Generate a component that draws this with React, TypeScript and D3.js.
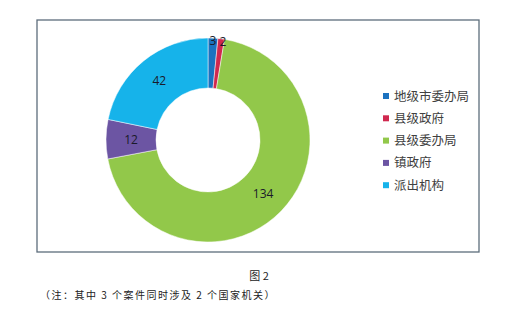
import { useEffect, useRef } from "react";
import * as d3 from "d3";

const W = 519;
const H = 317;

const categories = ["地级市委办局", "县级政府", "县级委办局", "镇政府", "派出机构"];
const counts = [3, 2, 134, 12, 42];
const colors = ["#1b72c0", "#d0284f", "#92c84a", "#6c55a3", "#16b3ea"];
const caption = "图 2";
const note = "（注：其中 3 个案件同时涉及 2 个国家机关）";

const CX = 208;
const CY = 140;
const R_OUT = 102;
const R_IN = 52;

export default function App() {
  const svgRef = useRef<SVGSVGElement>(null);

  useEffect(() => {
    if (!svgRef.current) return;
    const root = d3.select(svgRef.current);
    root.selectAll("*").remove();

    // chart frame
    root
      .append("rect")
      .attr("x", 37)
      .attr("y", 20)
      .attr("width", 442)
      .attr("height", 232)
      .attr("fill", "white")
      .attr("stroke", "#5d6d7c")
      .attr("stroke-width", 1.3);

    const pie = d3
      .pie<number>()
      .sort(null)
      .value((d) => d);
    const arcs = pie(counts);

    const arc = d3.arc<d3.PieArcDatum<number>>().innerRadius(R_IN).outerRadius(R_OUT);
    const labelArc = d3.arc<d3.PieArcDatum<number>>().innerRadius(77).outerRadius(77);
    const edgeArc = d3.arc<d3.PieArcDatum<number>>().innerRadius(99).outerRadius(99);

    const g = root.append("g").attr("transform", `translate(${CX},${CY})`);

    g.selectAll("path")
      .data(arcs)
      .join("path")
      .attr("d", arc)
      .attr("fill", (_, i) => colors[i])
      .attr("stroke", "white")
      .attr("stroke-width", 0.5);

    // small slices get their label pushed to the outer edge
    g.selectAll("text")
      .data(arcs)
      .join("text")
      .attr("transform", (d) => {
        const small = d.endAngle - d.startAngle < 0.2;
        const [x, y] = small ? edgeArc.centroid(d) : labelArc.centroid(d);
        return `translate(${x + (small && d.index === 1 ? 2 : 0)},${y})`;
      })
      .attr("text-anchor", "middle")
      .attr("dy", "0.35em")
      .attr("font-family", "'Open Sans', 'DejaVu Sans', sans-serif")
      .attr("font-size", 12)
      .attr("fill", "#1a1a2a")
      .text((d) => d.data);

    // legend
    const legend = root.append("g").attr("transform", "translate(383,96)");
    categories.forEach((c, i) => {
      const row = legend.append("g").attr("transform", `translate(0,${i * 22.3})`);
      row
        .append("rect")
        .attr("x", 0)
        .attr("y", -3)
        .attr("width", 6)
        .attr("height", 6)
        .attr("fill", colors[i]);
      row
        .append("text")
        .attr("x", 11)
        .attr("dy", "0.36em")
        .attr("font-family", "'Noto Sans CJK SC', sans-serif")
        .attr("font-size", 12.5)
        .attr("fill", "#404040")
        .text(c);
    });

    root
      .append("text")
      .attr("x", 259)
      .attr("y", 280)
      .attr("text-anchor", "middle")
      .attr("font-family", "'Noto Sans CJK SC', serif")
      .attr("font-size", 11)
      .attr("fill", "#222")
      .text(caption);

    root
      .append("text")
      .attr("x", 40)
      .attr("y", 299)
      .attr("font-family", "'Noto Sans CJK SC', serif")
      .attr("font-size", 10)
      .attr("letter-spacing", 1.5)
      .attr("fill", "#222")
      .text(note);
  }, []);

  return (
    <svg
      ref={svgRef}
      width={W}
      height={H}
      viewBox={`0 0 ${W} ${H}`}
      style={{ position: "absolute", left: 0, top: 0, background: "white" }}
    />
  );
}
